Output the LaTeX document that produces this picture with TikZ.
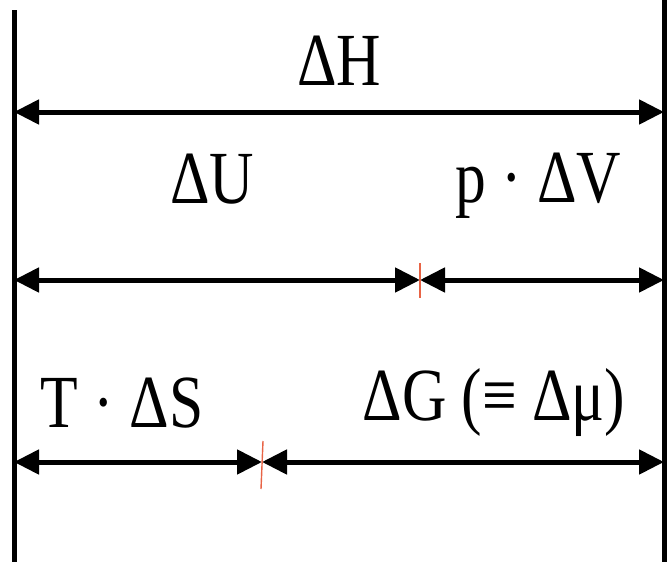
\documentclass[tikz,border=0pt]{standalone}
\usepackage{fontspec}
\setmainfont{Liberation Serif}
\usetikzlibrary{arrows.meta}
\begin{document}
\begin{tikzpicture}[x=1pt,y=-1pt,
  wall/.style={line width=5pt},
  dimarrow/.style={line width=5pt,{Triangle[length=25pt,width=24pt]}-{Triangle[length=25pt,width=24pt]}},
  tick/.style={line width=1.4pt,draw={rgb,255:red,232;green,100;blue,70}},
  lbl/.style={inner sep=0pt,anchor=base,font=\fontsize{75}{80}\selectfont}]
\useasboundingbox (0,0) rectangle (669,562);
\coordinate (lt) at (14,10);
\coordinate (lb) at (14,562);
\coordinate (rt) at (664,0);
\coordinate (rb) at (664,562);
\draw[wall] (lt) -- (lb);
\draw[wall] (rt) -- (rb);
% row 1
\coordinate (a1) at (14,112);
\coordinate (b1) at (664,112);
\draw[dimarrow] (a1) -- (b1);
\node[lbl] (dH) at (339,85) {\scalebox{0.82}[1]{ΔH}};
% row 2
\coordinate (a2) at (14,280);
\coordinate (m2) at (420,280);
\coordinate (b2) at (664,280);
\coordinate (t2a) at (420,263);
\coordinate (t2b) at (420,298);
\draw[dimarrow] (a2) -- (m2);
\draw[dimarrow] (m2) -- (b2);
\draw[tick] (t2a) -- (t2b);
\node[lbl] (dU) at (212,203) {\scalebox{0.82}[1]{ΔU}};
\node[lbl] (pdV) at (538,202) {\scalebox{0.82}[1]{p · ΔV}};
% row 3
\coordinate (a3) at (14,462);
\coordinate (m3) at (262,462);
\coordinate (b3) at (664,462);
\coordinate (t3a) at (263,441);
\coordinate (t3b) at (261,489);
\draw[dimarrow] (a3) -- (m3);
\draw[dimarrow] (m3) -- (b3);
\draw[tick] (t3a) -- (t3b);
\node[lbl] (TdS) at (122,427) {\scalebox{0.82}[1]{T · ΔS}};
\node[lbl] (dG) at (494,420) {\scalebox{0.82}[1]{ΔG (≡ Δμ)}};
\end{tikzpicture}
\end{document}
